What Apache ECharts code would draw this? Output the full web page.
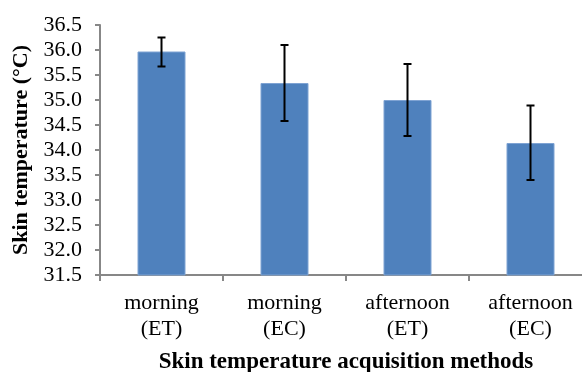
<!DOCTYPE html>
<html><head><meta charset="utf-8">
<script src="https://cdn.jsdelivr.net/npm/echarts@6/dist/echarts.min.js"></script>
<style>html,body{margin:0;padding:0;background:#fff}#c{width:582px;height:372px}</style>
</head><body><div id="c"></div>
<script>
var categories = ['morning\n(ET)', 'morning\n(EC)', 'afternoon\n(ET)', 'afternoon\n(EC)'];
var meanValues = [35.97, 35.34, 35.0, 34.14];
var errLow = [35.67, 34.58, 34.28, 33.40];
var errHigh = [36.25, 36.10, 35.72, 34.89];

var chart = echarts.init(document.getElementById('c'));
var font = '"Liberation Serif", "Times New Roman", serif';
var errData = categories.map(function (c, i) { return [i, errLow[i], errHigh[i]]; });
chart.setOption({
  animation: false,
  grid: { left: 100, top: 25, bottom: 97, right: -10, containLabel: false, outerBoundsMode: 'none' },
  xAxis: {
    type: 'category', data: categories,
    axisLine: { lineStyle: { color: '#878787', width: 2 } },
    axisTick: { show: true, length: 6, lineStyle: { color: '#878787', width: 2 } },
    axisLabel: { fontFamily: font, fontSize: 22, color: '#000', lineHeight: 26, margin: 15 },
    name: 'Skin temperature acquisition methods', nameLocation: 'middle', nameGap: 76,
    nameTextStyle: { fontFamily: font, fontSize: 23, fontWeight: 'bold', color: '#000' }
  },
  yAxis: {
    type: 'value', min: 31.5, max: 36.5, interval: 0.5,
    axisLine: { show: true, lineStyle: { color: '#878787', width: 2 } },
    axisTick: { show: true, length: 5, lineStyle: { color: '#878787', width: 2 } },
    splitLine: { show: false },
    axisLabel: { fontFamily: font, fontSize: 22, color: '#000', margin: 18, formatter: function (v) { return v.toFixed(1); } },
    name: 'Skin temperature (°C)', nameLocation: 'middle', nameGap: 66,
    nameTextStyle: { fontFamily: font, fontSize: 22, fontWeight: 'bold', color: '#000' }
  },
  series: [{
    type: 'bar', data: meanValues, barWidth: 48,
    itemStyle: { color: '#4F81BD', borderColor: '#7fa3d3', borderWidth: 1 }
  }, {
    type: 'custom', data: errData, z: 10,
    renderItem: function (params, api) {
      var x = api.value(0);
      var lo = api.coord([x, api.value(1)]);
      var hi = api.coord([x, api.value(2)]);
      var hw = 4;
      var st = { stroke: '#000', lineWidth: 2 };
      return { type: 'group', children: [
        { type: 'line', shape: { x1: hi[0], y1: hi[1], x2: lo[0], y2: lo[1] }, style: st },
        { type: 'line', shape: { x1: hi[0] - hw, y1: hi[1], x2: hi[0] + hw, y2: hi[1] }, style: st },
        { type: 'line', shape: { x1: lo[0] - hw, y1: lo[1], x2: lo[0] + hw, y2: lo[1] }, style: st }
      ]};
    }
  }]
});
</script></body></html>
